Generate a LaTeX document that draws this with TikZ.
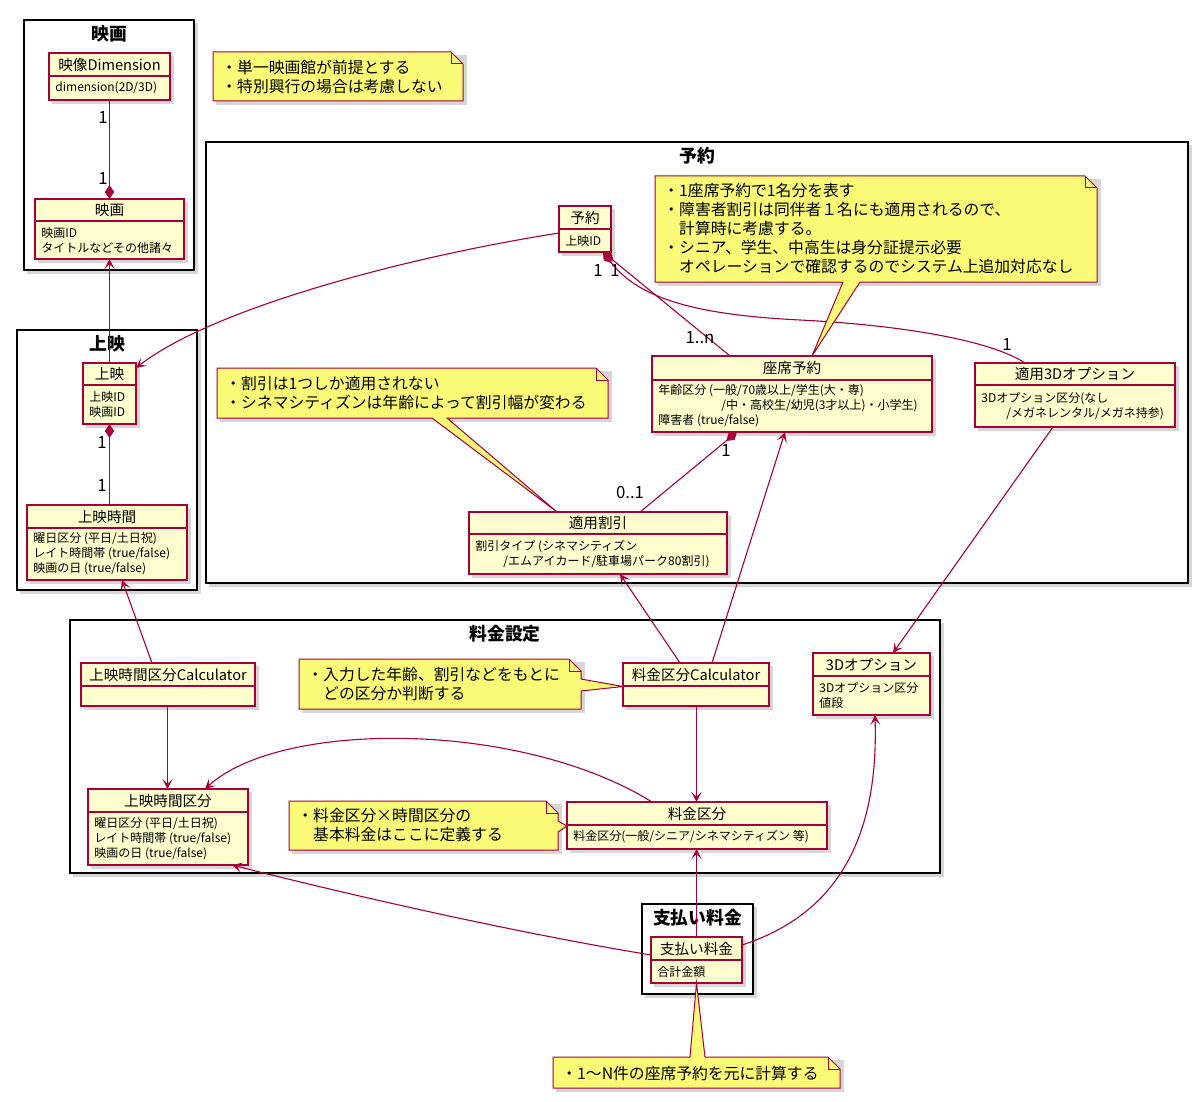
\documentclass[tikz,border=0pt]{standalone}
\usepackage{fontspec}
\setmainfont{Noto Sans CJK JP}
\usetikzlibrary{arrows.meta,calc,fit}
\definecolor{umlred}{HTML}{A80036}
\definecolor{umlfill}{HTML}{FEFECE}
\definecolor{notefill}{HTML}{FBFB77}
\tikzset{
  shadowc/.style={fill=black, opacity=0.16},
  pkgline/.style={draw=black, line width=1pt, fill=white},
  pkgtitle/.style={font=\fontsize{8.9}{10}\selectfont\bfseries, inner sep=0pt},
  clsbox/.style={draw=umlred, fill=umlfill, line width=0.75pt, inner sep=0pt, outer sep=0pt},
  clsline/.style={draw=umlred, line width=0.75pt},
  clstitle/.style={font=\fontsize{7.3}{8.5}\selectfont, inner sep=0pt},
  clsattr/.style={font=\fontsize{6}{7.5}\selectfont, inner sep=0pt, anchor=west, align=left},
  notebox/.style={draw=umlred, fill=notefill, line width=0.5pt, line join=miter},
  notefold/.style={draw=umlred, line width=0.5pt},
  notetext/.style={font=\fontsize{7.9}{9.5}\selectfont, inner sep=0pt, anchor=west, align=left},
  conn/.style={draw=umlred, line width=0.55pt},
  arr/.style={conn, -{Stealth[length=5pt, width=5pt, inset=2.4pt]}},
  compstart/.style={conn, {Diamond[length=7pt, width=4.6pt]}-},
  compend/.style={conn, -{Diamond[length=7pt, width=4.6pt]}},
  mult/.style={font=\fontsize{8.4}{9}\selectfont, inner sep=0pt}
}
\newcommand{\umlpkg}[6]{%
  \fill[shadowc] (#2+3,#3+3) rectangle (#4+4,#5+4);
  \draw[pkgline] (#2,#3) rectangle (#4,#5);
  \node[pkgtitle] (#1) at ({(#2+#4)/2},#3+14) {#6};
}
\newcommand{\umlcls}[8]{%
  \fill[shadowc] (#2+3,#3+3) rectangle (#4+4,#5+4);
  \node[clsbox, fit={(#2,#3) (#4,#5)}] (#1) {};
  \draw[clsline] (#2,#6) -- (#4,#6);
  \node[clstitle] (#1-t) at ({(#2+#4)/2},{(#3+#6)/2}) {#7};
  \node[clsattr] (#1-a) at (#2+6,{(#6+#5)/2}) {#8};
}
\begin{document}
\begin{tikzpicture}[x=0.5pt,y=-0.5pt]
\useasboundingbox[fill=white] (0,0) rectangle (1200,1102);

% packages
\umlpkg{pEiga}{24}{20}{194}{270}{映画}
\umlpkg{pJoei}{17}{330}{197}{590}{上映}
\umlpkg{pYoyaku}{206}{142}{1188}{583}{予約}
\umlpkg{pRyokin}{70}{620}{940}{873}{料金設定}
\umlpkg{pShiharai}{642}{904}{753}{994}{支払い料金}

% classes
\umlcls{dim}{49}{53}{170}{100}{76}{映像Dimension}{dimension(2D/3D)}
\umlcls{eiga}{35}{199}{184}{259}{221}{映画}{映画ID\\タイトルなどその他諸々}
\umlcls{joei}{83}{363}{136}{424}{385}{上映}{上映ID\\映画ID}
\umlcls{joeijikan}{27}{505}{187}{580}{528}{上映時間}{曜日区分 (平日/土日祝)\\レイト時間帯 (true/false)\\映画の日 (true/false)}
\umlcls{yoyaku}{559}{206}{611}{252}{229}{予約}{上映ID}
\umlcls{zaseki}{652}{356}{932}{432}{380}{座席予約}{年齢区分 (一般/70歳以上/学生(大・専)\\\hspace*{31.5pt}/中・高校生/幼児(3才以上)・小学生)\\障害者 (true/false)}
\umlcls{tekiyo3d}{975}{363}{1175}{427}{385}{適用3Dオプション}{3Dオプション区分(なし\\\hspace*{12.5pt}/メガネレンタル/メガネ持参)}
\umlcls{waribiki}{469}{512}{727}{574}{534}{適用割引}{割引タイプ (シネマシティズン\\\hspace*{14pt}/エムアイカード/駐車場パーク80割引)}
\umlcls{jcalc}{81}{663}{255}{706}{686}{上映時間区分Calculator}{}
\umlcls{rcalc}{623}{663}{769}{706}{686}{料金区分Calculator}{}
\umlcls{opt3d}{813}{653}{930}{715}{676}{3Dオプション}{3Dオプション区分\\値段}
\umlcls{jkubun}{88}{789}{248}{865}{812}{上映時間区分}{曜日区分 (平日/土日祝)\\レイト時間帯 (true/false)\\映画の日 (true/false)}
\umlcls{rkubun}{567}{802}{827}{849}{825}{料金区分}{料金区分(一般/シニア/シネマシティズン 等)}
\umlcls{shiharai}{651}{937}{742}{983}{960}{支払い料金}{合計金額}

% connectors
\draw[compend] (dim.south) -- (eiga.north);
\draw[arr] (joei.north) -- (eiga.south);
\draw[compstart] (joei.south) -- (joei.south |- joeijikan.north);
\draw[arr] ($(yoyaku.west)+(0,4)$) .. controls (400,258) and (210,310) .. ($(joei.north east)+(0,5)$);
\draw[compstart] ($(yoyaku.south east)+(-8,0)$) -- ($(zaseki.north west)+(78,0)$);
\draw[compstart] ($(yoyaku.south east)+(-8,0)$) .. controls (640,300) and (700,315) .. (800,320) .. controls (900,325) and (990,340) .. ($(tekiyo3d.north west)+(50,0)$);
\draw[compstart] ($(zaseki.south west)+(85,0)$) -- ($(waribiki.north west)+(171,0)$);
\draw[arr] ($(rcalc.north west)+(57,0)$) -- ($(waribiki.south west)+(151,0)$);
\draw[arr] ($(rcalc.north west)+(89,0)$) -- ($(zaseki.south west)+(133,0)$);
\draw[arr] ($(tekiyo3d.south west)+(78,0)$) -- ($(opt3d.north west)+(80,0)$);
\draw[arr] ($(jcalc.north west)+(71,0)$) -- ($(joeijikan.south west)+(95,0)$);
\draw[arr] ($(jcalc.south west)+(86.5,0)$) -- ($(jkubun.north west)+(79.5,0)$);
\draw[arr] ($(rcalc.south)+(0.5,0)$) -- ($(rcalc.south |- rkubun.north)+(0.5,0)$);
\draw[arr] ($(rkubun.north west)+(85,0)$) .. controls (520,720) and (280,720) .. ($(jkubun.north west)+(117,0)$);
\draw[arr] ($(shiharai.west)+(0,-5)$) .. controls (500,930) and (330,890) .. ($(jkubun.south west)+(144,0)$);
\draw[arr] (shiharai.north) -- (shiharai.north |- rkubun.south);
\draw[arr] ($(shiharai.east)+(0,-15)$) .. controls (850,910) and (878,820) .. ($(opt3d.south west)+(62,0)$);

% multiplicities
\node[mult] (m1) at (103,118) {1};
\node[mult] (m2) at (103,179) {1};
\node[mult] (m3) at (102,443) {1};
\node[mult] (m4) at (102,486) {1};
\node[mult] (m5) at (598,271) {1};
\node[mult] (m6) at (615,271) {1};
\node[mult] (m7) at (700,338) {1..n};
\node[mult] (m8) at (1007,345) {1};
\node[mult] (m9) at (726,451) {1};
\node[mult] (m10) at (630,493) {0..1};

% notes
% n1
\fill[shadowc] (216,55) rectangle (467,105);
\draw[notebox] (213,52) -- (451,52) -- (463,64) -- (463,101) -- (213,101) -- cycle;
\draw[notefold] (451,52) -- (451,64) -- (463,64);
\node[notetext] (n1) at (221,76.5) {・単一映画館が前提とする\\・特別興行の場合は考慮しない};
% n2
\fill[shadowc] (658,179) rectangle (1101,286);
\draw[notebox] (655,176) -- (1085,176) -- (1097,188) -- (1097,282) -- (860,282) -- ($(zaseki.north west)+(160,0)$) -- (843,282) -- (655,282) -- cycle;
\draw[notefold] (1085,176) -- (1085,188) -- (1097,188);
\node[notetext] (n2) at (663,228) {・1座席予約で1名分を表す\\・障害者割引は同伴者１名にも適用されるので、\\\phantom{・}計算時に考慮する。\\・シニア、学生、中高生は身分証提示必要\\\phantom{・}オペレーションで確認するのでシステム上追加対応なし};
% n3
\fill[shadowc] (220,371) rectangle (612,422);
\draw[notebox] (217,368) -- (596,368) -- (608,380) -- (608,418) -- (447,418) -- ($(waribiki.north west)+(88,0)$) -- (432,418) -- (217,418) -- cycle;
\draw[notefold] (596,368) -- (596,380) -- (608,380);
\node[notetext] (n3) at (225,393) {・割引は1つしか適用されない\\・シネマシティズンは年齢によって割引幅が変わる};
% n4
\fill[shadowc] (302,662) rectangle (585,713);
\draw[notebox] (299,659) -- (569,659) -- (581,671) -- (581,679) -- ($(rcalc.west)+(0,2)$) -- (581,691) -- (581,709) -- (299,709) -- cycle;
\draw[notefold] (569,659) -- (569,671) -- (581,671);
\node[notetext] (n4) at (307,684) {・入力した年齢、割引などをもとに\\\phantom{・}どの区分か判断する};
% n5
\fill[shadowc] (292,804) rectangle (562,854);
\draw[notebox] (289,801) -- (546,801) -- (558,813) -- (558,821) -- ($(rkubun.west)+(0,0.5)$) -- (558,832) -- (558,850) -- (289,850) -- cycle;
\draw[notefold] (546,801) -- (546,813) -- (558,813);
\node[notetext] (n5) at (297,825.5) {・料金区分×時間区分の\\\phantom{・}基本料金はここに定義する};
% n6
\fill[shadowc] (556,1060) rectangle (844,1092);
\draw[notebox] (553,1057) -- (690,1057) -- (shiharai.south) -- (705,1057) -- (828,1057) -- (840,1069) -- (840,1088) -- (553,1088) -- cycle;
\draw[notefold] (828,1057) -- (828,1069) -- (840,1069);
\node[notetext] (n6) at (561,1073) {・1〜N件の座席予約を元に計算する};
\end{tikzpicture}
\end{document}
